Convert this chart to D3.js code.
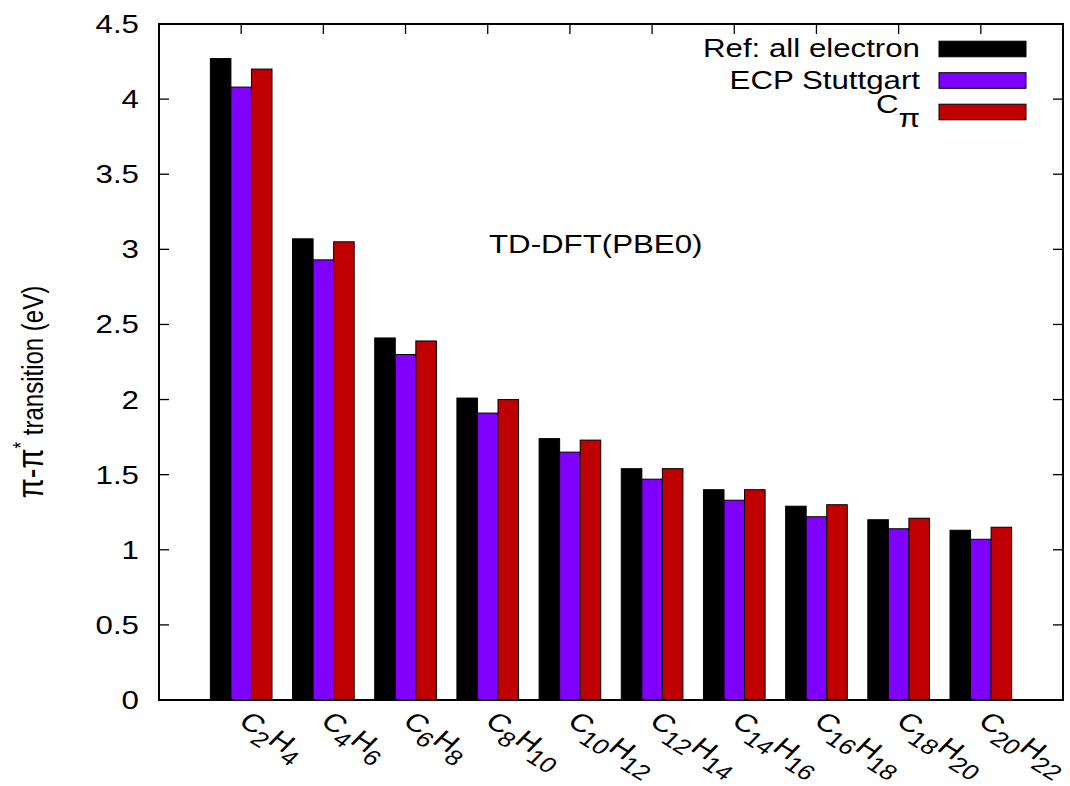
<!DOCTYPE html>
<html>
<head>
<meta charset="utf-8">
<script src="https://cdn.jsdelivr.net/npm/d3@7"></script>
<style>
  body { margin: 0; background: #fff; }
  svg text { font-family: "Liberation Sans", Arial, sans-serif; fill: #000; }
</style>
</head>
<body>
<svg id="chart" width="1070" height="786"></svg>
<script>
// molecules on the x axis
const categories = ["C2H4", "C4H6", "C6H8", "C8H10", "C10H12", "C12H14", "C14H16", "C16H18", "C18H20", "C20H22"];

// pi-pi* transition energies (eV)
const refAllElectron = [4.27, 3.07, 2.41, 2.01, 1.74, 1.54, 1.40, 1.29, 1.20, 1.13];
const ecpStuttgart   = [4.08, 2.93, 2.30, 1.91, 1.65, 1.47, 1.33, 1.22, 1.14, 1.07];
const cPi            = [4.20, 3.05, 2.39, 2.00, 1.73, 1.54, 1.40, 1.30, 1.21, 1.15];

const seriesNames = ["Ref: all electron", "ECP Stuttgart", "C_π"];
const yTicks = [0, 0.5, 1, 1.5, 2, 2.5, 3, 3.5, 4, 4.5];

const color = ["#000000", "#7f00ff", "#c00000"];
const series = [refAllElectron, ecpStuttgart, cPi];

// the picture is stretched sideways, text gets the same stretch
const SX = 1.25;
const FS = 25;

const svg = d3.select('#chart');

const margin = {left: 159, right: 1063, top: 24, bottom: 700};

const xScale = d3.scaleLinear()
    .domain([-1, 10])
    .range([margin.left, margin.right]);

const yScale = d3.scaleLinear()
    .domain([0, 4.5])
    .range([margin.bottom, margin.top]);

const unit = xScale(1) - xScale(0);
const barW = unit / 4;

// text helper, stretched sideways like the rest of the picture
const addText = (x, y, rot, anchor) => {
    return svg.append('g')
        .attr('transform', `translate(${x},${y}) scale(${SX},1) rotate(${rot})`)
        .append('text')
        .attr('text-anchor', anchor)
        .style('font-size', FS + 'px');
}

// Bars
for (let s = 0; s < series.length; s++) {
    svg.append('g').selectAll('rect').data(series[s])
        .enter().append('rect')
        .attr('x', (d, i) => xScale(i) + (s - 1.5) * barW)
        .attr('y', d => yScale(d))
        .attr('width', barW)
        .attr('height', d => yScale(0) - yScale(d))
        .style('fill', color[s])
        .style('stroke', '#000')
        .style('stroke-width', 1);
}

// Y ticks, both sides
yTicks.forEach(t => {
    svg.append('line')
        .attr('x1', margin.left).attr('x2', margin.left + 10)
        .attr('y1', yScale(t)).attr('y2', yScale(t))
        .style('stroke', '#000').style('stroke-width', 1.3);
    svg.append('line')
        .attr('x1', margin.right - 10).attr('x2', margin.right)
        .attr('y1', yScale(t)).attr('y2', yScale(t))
        .style('stroke', '#000').style('stroke-width', 1.3);
    addText(139, yScale(t) + 9, 0, 'end').text(d3.format('~g')(t));
});

// X ticks (top mirror)
categories.forEach((c, i) => {
    svg.append('line')
        .attr('x1', xScale(i)).attr('x2', xScale(i))
        .attr('y1', margin.top).attr('y2', margin.top + 10)
        .style('stroke', '#000').style('stroke-width', 1.3);
});

// X tick labels with subscripts
categories.forEach((c, i) => {
    const t = addText(xScale(i) - 4, 724, 38, 'start');
    const parts = c.match(/[A-Z]\d+/g);
    let sub = false;
    parts.forEach(p => {
        const el = p[0];
        const n = p.slice(1);
        t.append('tspan').attr('dy', sub ? -8 : 0).text(el);
        t.append('tspan').attr('dy', 8).style('font-size', (FS * 0.85) + 'px').text(n);
        sub = true;
    });
});

// Frame
svg.append('rect')
    .attr('x', margin.left).attr('y', margin.top)
    .attr('width', margin.right - margin.left)
    .attr('height', margin.bottom - margin.top)
    .style('fill', 'none').style('stroke', '#000').style('stroke-width', 2);

// Y label
const yl = addText(43, 392, -90, 'middle');
yl.append('tspan').style('font-size', '29px').text('π-π');
yl.append('tspan').attr('dy', -12).style('font-size', '17px').text('*');
yl.append('tspan').attr('dy', 12).style('font-size', '24px').text(' transition (eV)');

// annotation
addText(489, 253, 0, 'start').text('TD-DFT(PBE0)');

// Legend
const legY = [49, 80.5, 112];
for (let s = 0; s < series.length; s++) {
    svg.append('rect')
        .attr('x', 939).attr('y', legY[s] - 7.8)
        .attr('width', 87).attr('height', 15.6)
        .style('fill', color[s]).style('stroke', '#000').style('stroke-width', 1);
    if (s < 2) {
        addText(920, legY[s] + 8, 0, 'end').text(seriesNames[s]);
    } else {
        const t = addText(920, legY[s] + 1, 0, 'end');
        t.append('tspan').style('font-size', '25px').text('C');
        t.append('tspan').attr('dy', 14).style('font-size', '25px').text('π');
    }
}
</script>
</body>
</html>
